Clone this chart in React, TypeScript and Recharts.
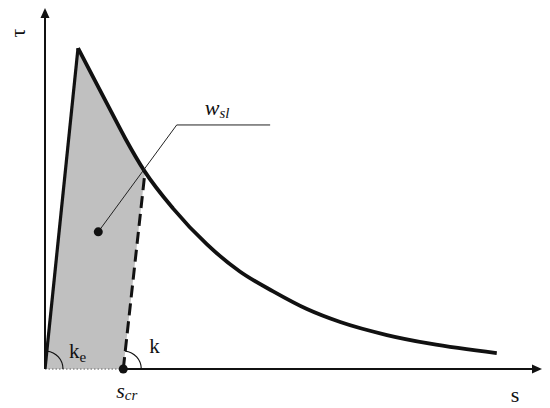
import {
  ComposedChart,
  Area,
  Line,
  XAxis,
  YAxis,
  ReferenceLine,
  ReferenceDot
} from "recharts";

// slip s and stress tau, both in % of the axis length
const loadS = [0, 6.64];
const loadTau = [0, 88.9];

const softS = [6.64, 10.0, 13.42, 16.1, 20.12, 25.75, 32.6, 39.2, 45.9, 52.7, 59.4, 68.8, 77.5, 90.9];
const softTau = [88.9, 80.0, 71.0, 64.0, 54.6, 44.5, 34.5, 27.0, 21.5, 16.6, 13.0, 9.4, 7.0, 4.4];

// critical slip, unloading line k goes from here to the curve
const sCr = 15.75;
const crossIdx = 4;

// w_sl marker and its leader line
const leaderS = [10.72, 26.5, 45.3];
const leaderTau = [38.0, 67.6, 67.6];

const FONT = "'Liberation Serif', 'DejaVu Serif', serif";
const INK = "#111";

const toRows = (xs: number[], ys: number[]) => xs.map((s, i) => ({ s, tau: ys[i] }));

const curveS = [...loadS, ...softS.slice(1)];
const curveTau = [...loadTau, ...softTau.slice(1)];
const curveAt = (s: number) => {
  for (let i = 1; i < curveS.length; i++) {
    if (s <= curveS[i]) {
      const t = (s - curveS[i - 1]) / (curveS[i] - curveS[i - 1]);
      return curveTau[i - 1] + t * (curveTau[i] - curveTau[i - 1]);
    }
  }
  return curveTau[curveTau.length - 1];
};
const crossS = softS[crossIdx];
const crossTau = softTau[crossIdx];
const unloadAt = (s: number) => Math.max(0, (crossTau * (s - sCr)) / (crossS - sCr));

const fillS = [...curveS.filter((s) => s < crossS), sCr, crossS].sort((a, b) => a - b);
const fillData = fillS.map((s) => ({ s, band: [unloadAt(s), curveAt(s)] }));

const ArrowLine = (p: any) => {
  const { x1, y1, x2, y2 } = p;
  const a = Math.atan2(y2 - y1, x2 - x1);
  const len = 10;
  const half = 4.5;
  const bx = x2 - len * Math.cos(a);
  const by = y2 - len * Math.sin(a);
  const pts = [
    [x2, y2],
    [bx - half * Math.sin(a), by + half * Math.cos(a)],
    [bx + half * Math.sin(a), by - half * Math.cos(a)]
  ]
    .map((q) => q.join(","))
    .join(" ");
  return (
    <g>
      <line x1={x1} y1={y1} x2={bx} y2={by} stroke={INK} strokeWidth={2} />
      <polygon points={pts} fill={INK} />
    </g>
  );
};

const arc = (cx: number, cy: number, r: number, deg: number) => {
  const t = (deg * Math.PI) / 180;
  return `M ${cx + r} ${cy} A ${r} ${r} 0 0 0 ${cx + r * Math.cos(t)} ${cy - r * Math.sin(t)}`;
};

export default function App() {
  return (
    <div style={{ position: "absolute", left: 0, top: 0, width: 550, height: 408 }}>
      <ComposedChart
        width={550}
        height={408}
        data={fillData}
        margin={{ top: 8, right: 8, bottom: 39, left: 45 }}
      >
        <XAxis dataKey="s" type="number" domain={[0, 100]} hide allowDataOverflow />
        <YAxis type="number" domain={[0, 100]} hide allowDataOverflow />

        <Area
          dataKey="band"
          type="linear"
          fill="#c0c0c0"
          fillOpacity={1}
          stroke="none"
          isAnimationActive={false}
          activeDot={false}
        />

        <ReferenceLine
          segment={[{ x: 0, y: 0 }, { x: sCr, y: 0 }]}
          stroke="#8a8a8a"
          strokeWidth={1.5}
          strokeDasharray="1.5 2"
          ifOverflow="visible"
        />
        <ReferenceLine
          segment={[{ x: sCr, y: 0 }, { x: 100, y: 0 }]}
          shape={ArrowLine}
          ifOverflow="visible"
        />
        <ReferenceLine
          segment={[{ x: 0, y: 0 }, { x: 0, y: 100 }]}
          shape={ArrowLine}
          ifOverflow="visible"
        />

        <Line
          data={toRows(loadS, loadTau)}
          dataKey="tau"
          type="linear"
          stroke={INK}
          strokeWidth={3.2}
          dot={false}
          activeDot={false}
          isAnimationActive={false}
        />
        <Line
          data={toRows(softS, softTau)}
          dataKey="tau"
          type="monotone"
          stroke={INK}
          strokeWidth={3.8}
          dot={false}
          activeDot={false}
          isAnimationActive={false}
        />
        <Line
          data={toRows([sCr, crossS], [0, crossTau])}
          dataKey="tau"
          type="linear"
          stroke={INK}
          strokeWidth={3}
          strokeDasharray="12 6"
          dot={false}
          activeDot={false}
          isAnimationActive={false}
        />
        <Line
          data={toRows(leaderS, leaderTau)}
          dataKey="tau"
          type="linear"
          stroke="#222"
          strokeWidth={1}
          dot={false}
          activeDot={false}
          isAnimationActive={false}
        />

        <ReferenceDot
          x={leaderS[0]}
          y={leaderTau[0]}
          r={4.5}
          fill={INK}
          stroke="none"
          ifOverflow="visible"
        />
        <ReferenceDot
          x={leaderS[1]}
          y={leaderTau[1]}
          ifOverflow="visible"
          shape={(p: any) => (
            <text x={p.cx + 28} y={p.cy - 10} fontFamily={FONT} fontSize={22} fill={INK} fontStyle="italic">
              w
              <tspan fontSize={15} dy={3}>sl</tspan>
            </text>
          )}
        />

        <ReferenceDot
          x={0}
          y={0}
          ifOverflow="visible"
          shape={(p: any) => (
            <g>
              <path d={arc(p.cx, p.cy, 18, 84)} fill="none" stroke={INK} strokeWidth={1.2} />
              <text x={p.cx + 24} y={p.cy - 11} fontFamily={FONT} fontSize={21} fill={INK}>
                k
                <tspan fontSize={15} dy={4}>e</tspan>
              </text>
            </g>
          )}
        />
        <ReferenceDot
          x={sCr}
          y={0}
          ifOverflow="visible"
          shape={(p: any) => (
            <g>
              <path d={arc(p.cx, p.cy, 18, 84)} fill="none" stroke={INK} strokeWidth={1.2} />
              <circle cx={p.cx} cy={p.cy} r={4.5} fill={INK} />
              <text x={p.cx + 26} y={p.cy - 16} fontFamily={FONT} fontSize={21} fill={INK}>
                k
              </text>
              <text x={p.cx - 7} y={p.cy + 29} fontFamily={FONT} fontSize={22} fill={INK} fontStyle="italic">
                s
                <tspan fontSize={15} dy={2}>cr</tspan>
              </text>
            </g>
          )}
        />

        <ReferenceDot
          x={100}
          y={0}
          ifOverflow="visible"
          shape={(p: any) => (
            <text x={p.cx - 27} y={p.cy + 33} textAnchor="middle" fontFamily={FONT} fontSize={22} fill={INK}>
              s
            </text>
          )}
        />
        <ReferenceDot
          x={0}
          y={100}
          ifOverflow="visible"
          shape={(p: any) => (
            <text
              x={p.cx - 28}
              y={p.cy + 25}
              textAnchor="middle"
              dominantBaseline="central"
              transform={`rotate(-90 ${p.cx - 28} ${p.cy + 25})`}
              fontFamily={FONT}
              fontSize={22}
              fill={INK}
            >
              τ
            </text>
          )}
        />
      </ComposedChart>
    </div>
  );
}
